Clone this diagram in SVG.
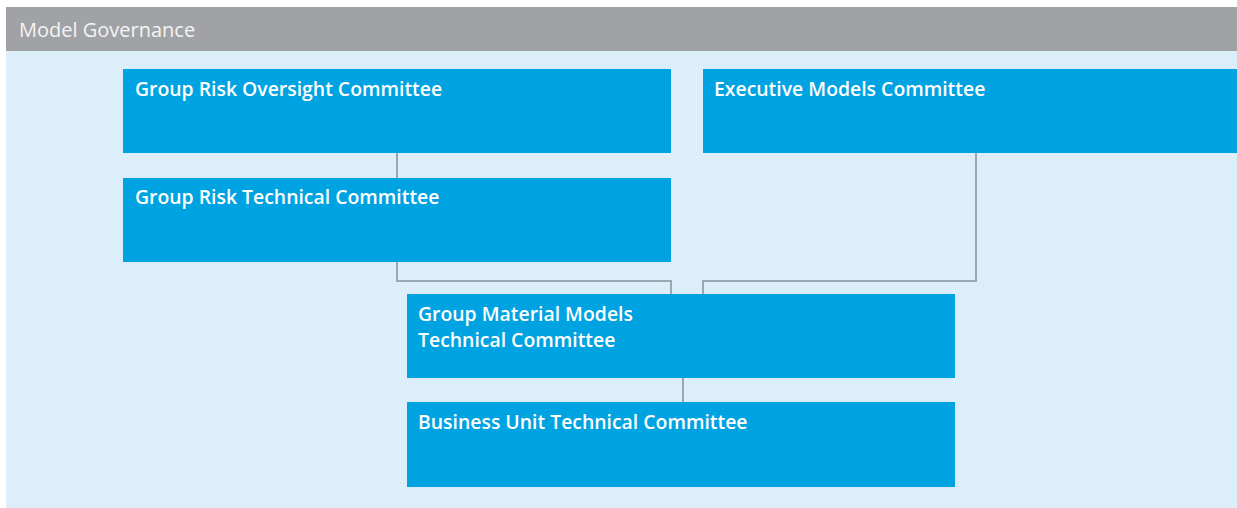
<svg xmlns="http://www.w3.org/2000/svg" width="1237" height="508" viewBox="0 0 1237 508">
<style>
.box{fill:#00a3e2}
.lbl{font-family:"Open Sans","Liberation Sans",sans-serif;font-size:19.4px;fill:#ffffff;font-weight:600}
.conn{fill:none;stroke:#9aa6b0;stroke-width:2}
</style>
<rect x="0" y="0" width="1237" height="508" fill="#ffffff"/>
<rect x="6" y="51" width="1231" height="457" fill="#ddeefb"/>
<g id="header">
<rect x="6" y="7" width="1231" height="44" fill="#a1a2a5"/>
<text x="19" y="37" class="lbl" style="font-weight:400;font-size:20px;fill:#f4f4f4">Model Governance</text>
</g>
<g id="connectors">
<path class="conn" d="M397 153V178"/>
<path class="conn" d="M397 262V281H671V294"/>
<path class="conn" d="M976 153V281H703V294"/>
<path class="conn" d="M683 378V402"/>
</g>
<g id="group-risk-oversight">
<rect class="box" x="123" y="69" width="548" height="84"/>
<text class="lbl" x="135" y="96">Group Risk Oversight Committee</text>
</g>
<g id="executive-models">
<rect class="box" x="703" y="69" width="534" height="84"/>
<text class="lbl" x="714" y="96">Executive Models Committee</text>
</g>
<g id="group-risk-technical">
<rect class="box" x="123" y="178" width="548" height="84"/>
<text class="lbl" x="135" y="204">Group Risk Technical Committee</text>
</g>
<g id="group-material-models">
<rect class="box" x="407" y="294" width="548" height="84"/>
<text class="lbl" x="418" y="321">Group Material Models</text>
<text class="lbl" x="418" y="347">Technical Committee</text>
</g>
<g id="business-unit">
<rect class="box" x="407" y="402" width="548" height="85"/>
<text class="lbl" x="418" y="429">Business Unit Technical Committee</text>
</g>
</svg>
